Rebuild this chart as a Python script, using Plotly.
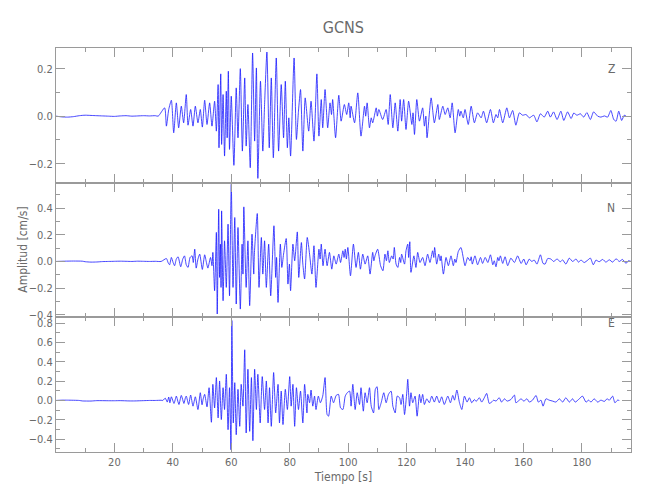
import plotly.graph_objects as go
from plotly.subplots import make_subplots

# ---------------- data ----------------
components = ["Z", "N", "E"]

z_t = [0, 2, 4, 6, 8, 10, 12, 14, 16, 18, 20, 22, 24, 26, 28, 30, 32, 34, 35,
       37.2, 37.8, 38.6, 39.5, 40.3, 41.2, 42.0, 42.9, 43.7, 44.6, 45.2, 46.1, 46.9, 47.7, 48.6, 49.4,
       50.1, 50.9, 51.7, 52.6, 53.4, 54.3, 54.9, 55.5, 55.8, 56.4, 56.7, 57.2, 57.7, 58.3, 58.6, 59.0,
       59.4, 60.0, 60.9, 61.7, 62.3, 63.1, 63.8, 64.6, 65.1, 65.7, 66.5, 67.3, 68.0, 68.6, 69.1, 70.0,
       70.8, 71.4, 72.2, 73.0, 73.7, 74.4, 75.4, 76.2, 77.1, 77.9, 78.5, 79.2, 79.7, 80.3, 81.5, 82.3,
       83.0, 83.7, 84.5, 85.3, 86.5, 87.3, 88.3, 89.3, 90.0, 90.8, 91.3, 92.1, 93.0, 93.8, 94.3, 94.7,
       95.7, 96.8, 97.6, 98.7, 99.5, 100.2, 100.7, 101.0, 102.2, 103.3, 104.4, 105.6, 106.0, 106.5,
       107.3, 107.9, 108.4, 109.6, 110.0, 110.5, 111.8, 113.0, 113.7, 114.4, 115.3, 116.1, 117.0,
       117.8, 118.3, 119.0, 119.8, 120.7, 121.8, 122.2, 122.7, 123.5, 124.4, 125.5, 126.1, 126.6,
       127.0, 128.4, 129.5, 130.7, 131.2, 132.4, 133.2, 134.1, 134.9, 135.6, 136.6, 137.7, 138.2,
       138.6, 139.4, 140.0, 141.1, 142.1, 143.2, 144.3, 145.5, 146.3, 147.4, 148.7, 149.7, 150.6,
       151.2, 151.8, 152.9, 154.3, 155.2, 156.3, 157.4, 158.6, 159.7, 160.9, 162.0, 163.5, 164.6,
       165.8, 167.1, 168.3, 169.2, 170.3, 171.5, 172.8, 173.8, 175.1, 176.3, 177.2, 178.3, 179.5,
       180.6, 181.7, 182.9, 184.0, 185.4, 186.5, 187.7, 188.8, 189.9, 190.9, 191.7, 192.6, 193.6,
       194.5, 195.1]
z_v = [0.0, -0.003, -0.004, -0.002, 0.002, 0.004, 0.003, 0.002, 0.001, 0.0, -0.001, 0.001, 0.002, 0.0, 0.001, 0.002, 0.001, 0.002, 0.0,
       0.035, -0.042, 0.028, 0.067, -0.07, 0.056, -0.049, 0.042, -0.028, 0.091, -0.038, 0.028, -0.042, 0.042, -0.028, 0.028,
       -0.046, 0.067, -0.035, 0.056, -0.042, 0.063, -0.063, 0.133, -0.133, 0.178, -0.119, 0.091, -0.168, 0.105, -0.091, 0.189,
       -0.14, 0.084, -0.207, 0.119, -0.091, 0.2, -0.147, 0.161, -0.126, 0.049, -0.217, 0.266, -0.105, 0.203, -0.262, 0.147,
       -0.147, 0.049, 0.27, -0.133, 0.161, -0.175, 0.245, -0.147, 0.133, -0.091, 0.147, -0.133, -0.007, -0.168, 0.245, -0.098,
       0.021, 0.112, -0.147, 0.077, -0.063, 0.063, -0.105, 0.178, -0.084, 0.07, -0.049, 0.112, -0.049, 0.056, 0.007, 0.07,
       -0.091, 0.088, -0.021, 0.049, 0.007, 0.056, -0.007, 0.042, -0.028, 0.098, -0.084, 0.042, 0.0, 0.056,
       -0.049, -0.007, -0.028, 0.035, 0.0, 0.028, -0.014, 0.028, -0.035, 0.091, -0.049, 0.056, -0.063,
       0.07, -0.021, 0.07, -0.056, 0.063, -0.035, 0.014, -0.077, 0.07, -0.021, 0.035, -0.042, 0.0,
       -0.091, 0.077, -0.028, 0.049, -0.014, 0.042, 0.007, 0.035, -0.007, 0.056, -0.07, 0.028, 0.0,
       0.021, -0.007, 0.028, -0.035, 0.042, -0.028, 0.014, -0.007, 0.021, -0.028, 0.028, -0.028, 0.007,
       -0.007, 0.028, -0.028, 0.035, -0.007, 0.024, -0.038, 0.014, 0.004, 0.007, -0.007, 0.004, -0.024,
       0.01, -0.004, 0.021, -0.004, 0.018, -0.014, 0.021, -0.018, 0.018, -0.01, 0.013, 0.004, 0.01,
       -0.004, 0.015, -0.014, 0.018, 0.0, -0.004, 0.001, -0.004, 0.024, -0.014, -0.021, 0.021, -0.018,
       0.004, 0.0]

n_t = [0, 3, 6, 9, 10, 12, 14, 16, 18, 20, 22, 24, 26, 28, 30, 32, 34, 36,
       37.8, 38.4, 38.9, 39.5, 40.1, 40.6, 41.2, 41.8, 42.7, 43.4, 44.0, 44.6, 45.2, 45.9, 46.6, 47.0,
       47.5, 48.0, 48.6, 49.2, 50.1, 50.9, 51.5, 52.0, 52.9, 53.4, 53.7, 54.3, 54.9, 55.2, 55.7, 56.0,
       56.3, 56.5, 56.7, 57.2, 57.7, 58.3, 58.9, 59.4, 60.0, 60.6, 61.2, 61.7, 62.3, 63.1, 63.7, 64.0,
       64.3, 65.1, 65.7, 66.3, 67.1, 67.7, 67.9, 68.9, 69.5, 70.3, 70.8, 71.4, 72.0, 72.8, 73.5, 74.6,
       75.2, 75.5, 76.0, 76.8, 77.3, 77.9, 78.8, 79.4, 79.9, 80.3, 81.1, 81.7, 82.6, 83.1, 84.0, 84.5,
       85.1, 86.0, 86.8, 87.6, 88.3, 89.0, 90.0, 90.4, 90.8, 91.4, 92.1, 92.8, 93.6, 94.4, 95.1, 95.9,
       96.8, 97.4, 98.2, 98.6, 99.0, 99.4, 99.9, 100.8, 101.8, 102.7, 103.5, 104.2, 105.0, 105.8, 106.7,
       107.5, 108.4, 108.8, 109.2, 110.1, 111.1, 111.9, 112.6, 113.1, 113.6, 114.1, 114.9, 115.4,
       115.8, 116.4, 117.0, 117.6, 118.0, 118.3, 119.3, 119.8, 120.4, 120.7, 121.1, 121.5, 122.5,
       123.2, 123.8, 124.6, 125.5, 126.3, 127.2, 128.0, 128.9, 129.3, 129.6, 130.3, 131.0, 131.5,
       131.8, 132.6, 133.5, 134.3, 135.2, 136.0, 136.5, 136.9, 137.7, 138.6, 140.0, 140.9, 141.7,
       142.1, 142.5, 143.4, 144.3, 145.3, 146.0, 146.9, 147.8, 148.7, 149.5, 150.0, 150.6, 151.2,
       151.6, 152.1, 152.9, 153.7, 154.6, 155.7, 156.9, 158.0, 159.2, 160.1, 160.9, 162.0, 162.8,
       163.7, 164.6, 165.8, 166.7, 167.4, 168.3, 169.4, 170.3, 171.5, 172.6, 173.4, 174.5, 175.7,
       176.8, 178.0, 178.8, 179.7, 180.8, 182.0, 182.9, 183.9, 184.8, 185.9, 187.1, 188.2, 189.4,
       190.5, 191.7, 192.8, 193.9, 195.1, 195.9, 196.8]
n_v = [0.0, 0.002, 0.003, 0.002, -0.002, -0.005, -0.004, -0.001, 0.0, 0.001, 0.002, 0.001, 0.0, 0.002, 0.001, 0.0, 0.001, 0.0,
       0.022, -0.01, -0.025, 0.03, -0.008, -0.032, 0.018, 0.035, -0.04, 0.018, 0.042, -0.025, -0.045, 0.03, 0.042, -0.008,
       0.092, -0.05, 0.018, 0.055, -0.06, 0.05, -0.008, -0.05, 0.03, -0.032, 0.068, -0.22, 0.218, -0.395, 0.392, -0.12,
       0.13, -0.195, 0.38, -0.295, 0.155, -0.195, 0.28, -0.258, 0.58, -0.195, 0.33, -0.32, 0.255, -0.358, 0.13, -0.095,
       0.41, -0.195, 0.155, -0.332, 0.205, -0.095, 0.055, 0.36, -0.195, 0.18, -0.095, 0.155, -0.195, 0.13, -0.258, 0.268,
       -0.12, 0.03, -0.308, 0.13, -0.045, 0.055, 0.172, -0.17, -0.02, -0.22, 0.13, 0.005, 0.222, -0.12, 0.142, -0.02,
       -0.132, 0.18, 0.055, -0.095, 0.118, -0.195, 0.092, 0.018, 0.13, -0.032, 0.092, -0.032, 0.068, -0.058, 0.042, -0.02,
       0.055, -0.008, 0.08, 0.03, 0.092, 0.018, 0.105, -0.108, 0.13, -0.045, 0.068, -0.058, 0.055, -0.02, 0.042,
       -0.095, 0.068, 0.005, 0.042, 0.092, -0.032, -0.07, 0.055, 0.005, 0.08, -0.008, 0.042, 0.018,
       0.105, -0.02, -0.045, 0.03, -0.008, 0.055, -0.02, 0.08, 0.13, 0.03, 0.148, -0.082, 0.042,
       -0.045, 0.068, -0.008, 0.03, -0.032, 0.055, -0.008, 0.08, 0.03, 0.105, -0.02, 0.055, 0.005,
       0.042, -0.095, 0.03, -0.032, 0.042, -0.032, 0.018, -0.008, 0.075, 0.105, -0.032, 0.03, 0.005,
       0.035, -0.02, 0.042, -0.025, 0.03, -0.015, 0.03, -0.008, 0.05, -0.025, 0.005, -0.04, 0.03,
       0.005, 0.042, -0.015, 0.035, -0.032, 0.025, -0.008, 0.042, -0.015, 0.018, -0.025, 0.018, 0.0,
       0.01, -0.02, 0.05, -0.015, -0.02, 0.022, 0.018, 0.0, 0.018, -0.002, 0.012, -0.02, 0.025,
       0.0, 0.018, -0.005, 0.01, -0.008, 0.01, 0.025, -0.025, 0.01, -0.002, 0.015, -0.005, 0.012,
       -0.005, 0.02, 0.0, 0.015, -0.015, 0.005, 0.0]

e_t = [0, 2, 4, 8, 9, 12, 14, 18, 20, 22, 25, 27, 30, 32, 34, 36,
       36.6, 37.4, 38.1, 38.6, 39.0, 39.5, 40.4, 41.2, 41.7, 42.1, 42.9, 43.8, 44.3, 44.6, 45.4, 46.1,
       46.9, 47.7, 48.6, 49.4, 50.0, 50.4, 50.9, 51.7, 52.4, 53.2, 53.7, 54.3, 54.9, 55.5, 56.0, 56.6,
       57.2, 57.7, 58.3, 58.9, 59.4, 59.9, 60.2, 60.7, 61.2, 61.7, 62.3, 62.9, 63.4, 64.0, 64.6, 65.1,
       65.7, 66.3, 66.9, 67.4, 68.0, 68.6, 69.1, 69.9, 70.6, 71.4, 72.0, 72.6, 73.1, 73.7, 74.5, 75.2,
       76.0, 76.5, 77.1, 77.7, 78.5, 79.2, 80.0, 80.5, 81.1, 81.7, 82.3, 83.0, 83.7, 84.5, 85.1, 85.9,
       86.2, 86.8, 87.3, 87.9, 88.5, 89.0, 89.8, 90.5, 91.3, 92.1, 92.8, 93.3, 94.2, 95.0, 95.9, 96.7,
       97.4, 98.2, 99.0, 99.7, 100.5, 101.0, 101.6, 102.4, 103.1, 103.9, 104.4, 105.2, 105.8, 106.5,
       107.3, 107.9, 108.7, 109.3, 109.9, 110.5, 111.3, 112.2, 113.0, 113.8, 114.7, 115.3, 116.1,
       116.8, 117.6, 118.1, 118.7, 119.3, 120.1, 120.4, 121.0, 121.5, 122.1, 122.9, 123.6, 124.4,
       124.9, 125.5, 126.1, 126.9, 127.8, 128.6, 129.5, 130.3, 131.2, 132.0, 132.9, 134.1, 135.0,
       135.8, 136.4, 137.2, 138.1, 138.9, 139.8, 140.7, 141.5, 142.3, 143.2, 143.8, 144.9, 145.7,
       146.6, 147.4, 148.3, 149.1, 149.8, 150.6, 151.7, 152.5, 153.5, 154.4, 155.7, 156.9, 157.4,
       158.2, 159.2, 160.1, 161.2, 162.0, 163.1, 164.3, 165.1, 166.0, 166.7, 167.7, 168.8, 170.0,
       171.1, 172.3, 173.4, 174.5, 175.7, 176.8, 177.7, 179.1, 180.2, 181.4, 182.3, 183.1, 184.2,
       185.4, 186.5, 187.7, 188.6, 189.4, 190.5, 191.3, 192.2, 192.8]
e_v = [0.0, 0.003, 0.003, 0.0, -0.005, -0.006, -0.002, -0.003, -0.003, -0.002, -0.005, -0.005, -0.002, 0.0, 0.0, 0.002,
       0.0, 0.024, -0.017, 0.035, -0.024, 0.038, -0.031, 0.045, -0.007, -0.042, 0.052, -0.031, 0.028, 0.045, -0.042, 0.056,
       -0.059, 0.038, -0.094, 0.08, -0.045, 0.017, 0.063, -0.066, 0.132, -0.226, 0.167, -0.077, 0.237, -0.181, 0.202, -0.198,
       0.132, -0.094, 0.271, -0.303, 0.132, -0.511, 0.828, -0.233, 0.184, -0.355, 0.115, -0.268, 0.167, -0.059, 0.525, -0.337,
       0.323, -0.32, 0.237, -0.417, 0.323, -0.094, 0.271, -0.233, 0.247, -0.094, 0.202, -0.233, 0.132, -0.268, 0.289, -0.129,
       0.167, -0.233, 0.097, -0.25, 0.115, -0.094, 0.247, -0.059, 0.167, -0.268, 0.132, -0.094, 0.097, -0.233, 0.167, -0.129,
       0.063, -0.024, 0.108, -0.059, 0.045, -0.094, 0.045, -0.024, 0.045, 0.237, -0.146, -0.163, 0.045, -0.024, 0.052, 0.063,
       -0.077, -0.094, 0.045, 0.08, 0.097, -0.059, 0.167, -0.094, 0.08, -0.042, 0.132, -0.111, 0.08, -0.024,
       0.132, -0.059, -0.129, 0.115, 0.143, -0.094, -0.024, 0.08, -0.024, 0.063, 0.097, -0.059, -0.129,
       0.045, 0.028, -0.042, 0.063, -0.146, 0.097, 0.219, -0.059, 0.08, -0.024, 0.045, -0.163, 0.063,
       -0.024, 0.063, -0.042, 0.017, -0.024, 0.045, -0.017, 0.045, -0.024, 0.038, -0.042, 0.045, -0.024,
       0.052, 0.003, 0.108, -0.024, -0.094, 0.045, -0.017, 0.028, -0.024, 0.01, -0.01, 0.028, -0.017,
       0.028, 0.073, -0.031, -0.017, 0.003, -0.007, 0.028, -0.017, 0.017, -0.007, 0.01, 0.056, -0.024,
       -0.007, 0.017, -0.007, 0.017, -0.017, 0.003, 0.052, -0.017, 0.003, -0.059, 0.017, 0.003, -0.007,
       -0.017, 0.017, -0.017, 0.028, -0.017, 0.017, -0.017, 0.017, 0.045, -0.017, 0.003, -0.017, 0.017,
       -0.017, 0.003, -0.01, 0.017, 0.003, 0.045, -0.024, 0.003, 0.0]

y_ranges = [[-0.28, 0.287], [-0.42, 0.592], [-0.534, 0.861]]
x_range = [0.02, 196.8]
x_ticks = [20, 40, 60, 80, 100, 120, 140, 160, 180]

title_text = "GCNS"
x_title = "Tiempo [s]"
y_title = "Amplitud [cm/s]"

# ---------------- figure ----------------
FONT = "DejaVu Sans Condensed, Liberation Sans Narrow, Roboto, sans-serif"
GRAY_TXT = "#6a6a6a"
GRAY_LINE = "#9a9a9a"
BLUE = "rgb(25,25,255)"

fig = make_subplots(rows=3, cols=1, shared_xaxes=True, vertical_spacing=0)

series = [(z_t, z_v), (n_t, n_v), (e_t, e_v)]
for i, (t, v) in enumerate(series):
    fig.add_trace(go.Scatter(x=t, y=v, mode="lines",
                             line=dict(color=BLUE, width=0.8, shape="spline", smoothing=0.6),
                             showlegend=False, hoverinfo="skip"),
                  row=i + 1, col=1)

for i in range(3):
    r = i + 1
    fig.update_xaxes(range=x_range, tickvals=x_ticks, ticks="inside", ticklen=9,
                     tickcolor=GRAY_LINE, tickwidth=1, showline=True, linecolor=GRAY_LINE,
                     linewidth=1, mirror="allticks", showgrid=False, zeroline=False,
                     automargin=False,
                     minor=dict(dtick=10, tick0=0, ticks="inside", ticklen=4,
                                tickcolor=GRAY_LINE, showgrid=False),
                     tickfont=dict(family=FONT, size=11, color=GRAY_TXT),
                     showticklabels=(r == 3), row=r, col=1)
    fig.update_yaxes(range=y_ranges[i], dtick=0.2, tick0=0, tickformat=".1f",
                     ticks="inside", ticklen=9, tickcolor=GRAY_LINE, tickwidth=1,
                     showline=True, linecolor=GRAY_LINE, linewidth=1, mirror="allticks",
                     showgrid=False, zeroline=False, automargin=False,
                     minor=dict(dtick=0.1, tick0=0, ticks="inside", ticklen=4,
                                tickcolor=GRAY_LINE, showgrid=False),
                     tickfont=dict(family=FONT, size=11, color=GRAY_TXT),
                     row=r, col=1)

fig.update_xaxes(title=dict(text=x_title, font=dict(family=FONT, size=12, color=GRAY_TXT),
                            standoff=4), row=3, col=1)

# component labels
label_y = [0.2, 0.4, 0.8]
for i, comp in enumerate(components):
    ax = "" if i == 0 else str(i + 1)
    fig.add_annotation(text=comp, x=0.975, xref="x%s domain" % ax, y=label_y[i],
                       yref="y%s" % ax, showarrow=False, xanchor="right", yanchor="middle",
                       font=dict(family=FONT, size=12, color=GRAY_TXT))

# y axis title
fig.add_annotation(text=y_title, x=-0.058, xref="paper", xanchor="center", y=0.5, yref="paper",
                   showarrow=False, textangle=-90, font=dict(family=FONT, size=12, color=GRAY_TXT))

fig.update_layout(
    width=650, height=500,
    margin=dict(l=48, r=27, t=40, b=56, autoexpand=False),
    paper_bgcolor="white", plot_bgcolor="white",
    title=dict(text=title_text, x=0.516, xanchor="center", y=0.962, yanchor="middle",
               font=dict(family=FONT, size=16, color=GRAY_TXT)),
)

fig.write_html("out.html")
